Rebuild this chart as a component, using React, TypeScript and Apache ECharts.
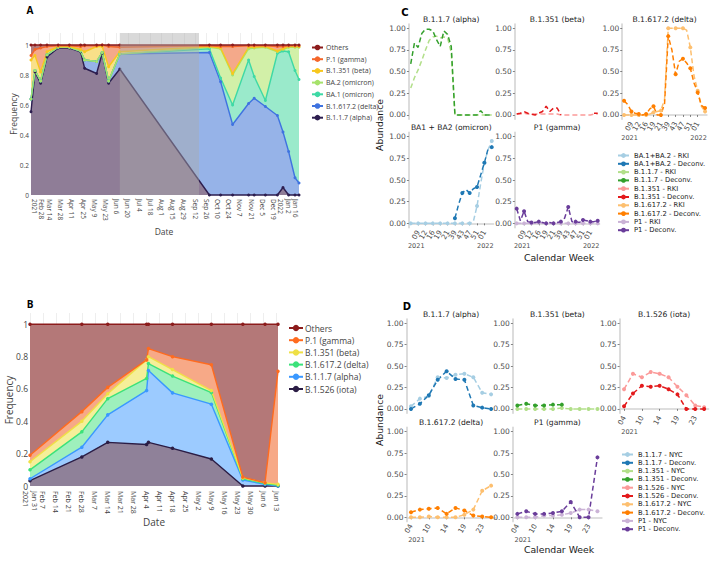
import React, { useEffect, useRef } from "react";
import * as echarts from "echarts";

// ---------------- Panel A (plotly stacked frequencies) ----------------
const datesA = ["2021-02-19","2021-02-24","2021-03-03","2021-03-11","2021-03-25","2021-04-08","2021-04-22","2021-04-27","2021-05-12","2021-05-19","2021-05-27","2021-06-10","2021-09-30","2021-10-14","2021-10-29","2021-11-18","2021-11-25","2021-12-09","2021-12-24","2021-12-31","2022-01-07","2022-01-15","2022-01-20"];
const alphaA = [0.555,0.82,0.745,0.92,0.98,0.98,0.955,0.845,0.81,0.945,0.745,0.84,0,0,0,0,0,0,0,0.05,0,0,0];
const deltaA = [0.085,0.01,0.015,0.015,0.005,0.005,0.005,0.055,0.08,0.005,0.015,0.10,0.95,0.755,0.47,0.61,0.645,0.59,0.53,0.37,0.29,0.115,0.08];
const ba1A = [0,0,0,0,0,0,0,0,0,0,0,0,0.025,0.025,0.13,0.29,0.145,0.04,0.415,0.54,0.665,0.715,0.69];
const ba2A = [0,0,0,0,0,0,0,0,0,0,0,0,0.01,0.195,0.2,0.075,0.19,0.355,0.01,0.01,0.03,0.155,0.215];
const betaA = [0.26,0.10,0.06,0.02,0.005,0.005,0.01,0.055,0.10,0.04,0.095,0.015,0.005,0.005,0.01,0.01,0.005,0.005,0.005,0.005,0.005,0.005,0.005];
const gammaA = [0.03,0.04,0.16,0.035,0.005,0.005,0.02,0.04,0.005,0.01,0.135,0.03,0.005,0.01,0.18,0.01,0.01,0.005,0.03,0.015,0.005,0.005,0.005];
const othersA = [0.07,0.03,0.02,0.01,0.005,0.005,0.01,0.005,0.005,0,0.01,0.015,0.005,0.01,0.01,0.005,0.005,0.005,0.01,0.01,0.005,0.005,0.005];
const ticksA = ["2021-02-28","2021-03-14","2021-03-28","2021-04-11","2021-04-25","2021-05-09","2021-05-23","2021-06-06","2021-06-20","2021-07-04","2021-07-18","2021-08-01","2021-08-15","2021-08-29","2021-09-12","2021-09-26","2021-10-10","2021-10-24","2021-11-07","2021-11-21","2021-12-05","2021-12-19","2022-01-02","2022-01-16"];
const yearTicksA = ["2021-02-28","2022-01-02"];
const gapA = ["2021-06-10","2021-09-17"];

// ---------------- Panel B ----------------
const datesB = ["2021-01-31","2021-02-28","2021-03-14","2021-04-04","2021-04-05","2021-04-18","2021-05-09","2021-05-26","2021-06-07","2021-06-14"];
const iotaB = [0.033,0.18,0.27,0.257,0.27,0.233,0.167,0,0,0];
const alphaB = [0.012,0.06,0.17,0.333,0.445,0.343,0.339,0.037,0.01,0];
const deltaB = [0.055,0.095,0.10,0.075,0.042,0.104,0.072,0.008,0.005,0.005];
const betaB = [0.05,0.065,0.03,0.115,0.043,0.04,0.012,0.005,0.005,0.005];
const gammaB = [0.04,0.06,0.04,0.0,0.05,0.08,0.16,0.005,0,0.70];
const othersB = [0.81,0.54,0.39,0.22,0.15,0.2,0.25,0.945,0.98,0.29];
const ticksB = ["2021-01-31","2021-02-07","2021-02-14","2021-02-21","2021-02-28","2021-03-07","2021-03-14","2021-03-21","2021-03-28","2021-04-04","2021-04-11","2021-04-18","2021-04-25","2021-05-02","2021-05-09","2021-05-16","2021-05-23","2021-05-30","2021-06-06","2021-06-13"];
const yearTicksB = ["2021-01-31"];

// ---------------- Panel C (calendar weeks 2021-2022) ----------------
const weeksC = ["07","08","09","10","12","14","16","17","19","20","21","22","39","41","43","45","47","49","51","52","01","02","03"];
const alphaRkiC = [0.31,0.43,0.52,0.63,0.75,0.86,0.9,0.91,0.89,0.9,0.89,0.72,0,0,0,0,0,0,0,0,0,0,0];
const alphaDecC = [0.59,0.83,0.78,0.94,0.99,0.99,0.97,0.87,0.79,0.97,0.93,0.79,0,0,0,0,0,0,0,0.05,0,0,0];
const betaRkiC = [0.01,0.01,0.02,0.01,0.01,0.01,0.01,0.01,0.01,0.01,0.01,0.01,0,0,0,0,0,0,0,0,0,0.01,0.01];
const betaDecC = [0.01,0.02,0.04,0.02,0.01,0,0.02,0.04,0.1,0.04,0.08,0.08,0,null,null,null,null,null,null,null,null,0.02,0.02];
const deltaRkiC = [0,0,0,0,0,0,0,0.01,0.03,0.04,0.05,0.18,1.0,1.0,1.0,1.0,1.0,0.98,0.78,0.45,0.28,0.1,0.04];
const deltaDecC = [0.165,0.12,0.04,0.02,0.01,0.0,0.01,0.07,0.1,0,0,0.13,0.91,0.75,0.47,0.62,0.65,0.6,0.54,0.37,0.26,0.11,0.08];
const omiRkiC = [0,0,0,0,0,0,0,0,0,0,0,0,0,0,0,0,0,0.02,0.2,0.46,0.7,0.85,0.95];
const omiDecC = [null,null,null,null,null,null,null,null,null,null,null,null,0.06,0.22,0.35,0.39,0.35,0.40,0.42,0.56,0.70,0.86,0.88];
const p1RkiC = [0,0,0,0,0,0,0.01,0,0,0,0,0,0,0,0,0,0,0,0,0,0,0,0];
const p1DecC = [0.17,0.03,0.14,0.02,0.01,0.01,0.02,0.01,0,0.01,0,0.01,0.02,0.06,0.19,0.02,0.02,0.01,0.04,0.03,0.02,0.02,0.03];

// ---------------- Panel D (calendar weeks 2021) ----------------
const weeksD = ["04","07","10","12","14","17","19","21","23","25"];
const alphaNycD = [0.03,0.12,0.15,0.37,0.36,0.40,0.41,0.37,0.19,0.17];
const alphaDecD = [0,0.06,0.16,0.34,0.44,0.35,0.34,0.04,0.015,0];
const betaNycD = [0,0,0,0,0,0.01,0,0,0,0];
const betaDecD = [0.04,0.06,0.04,0.04,0.05,0.05,null,null,null,null];
const iotaNycD = [0.23,0.41,0.37,0.43,0.41,0.37,0.26,0.16,0.04,0.02];
const iotaDecD = [0.03,0.18,0.27,0.26,0.27,0.23,0.17,0,0,0];
const deltaNycD = [0,0,0.01,0,0,0,0.03,0.09,0.31,0.37];
const deltaDecD = [0.06,0.09,0.1,0.11,0.04,0.11,0.08,0.02,0.01,0];
const p1NycD = [0,0,0,0.02,0.02,0.03,0.05,0.09,0.09,0.07];
const p1DecD = [0.04,0.07,0.04,0.04,0.05,0.07,0.18,0,0,0.70];

const MONTHS = ["Jan","Feb","Mar","Apr","May","Jun","Jul","Aug","Sep","Oct","Nov","Dec"];
const toTs = (s: string) => Date.parse(s + "T00:00:00Z");
const famP = "'Open Sans', sans-serif";
const famG = "'DejaVu Sans', sans-serif";

function dateFormatter(yearTicks: string[]) {
  const yt = yearTicks.map(toTs);
  return (v: number) => {
    const d = new Date(v);
    const base = MONTHS[d.getUTCMonth()] + " " + d.getUTCDate();
    if (yt.some((t) => Math.abs(t - v) < 3600000)) return base + "\n" + d.getUTCFullYear();
    return base;
  };
}

// stacked layers: list from bottom to top -> area series (top first, opaque, z1) + line series (bottom first, z2)
function stackedLayers(dates: string[], layers: any[], idx: number, size: number, lastExtra: any = {}) {
  const xs = dates.map(toTs);
  const cum: number[][] = [];
  let run = dates.map(() => 0);
  layers.forEach((l) => {
    run = run.map((r, i) => r + l.vals[i]);
    cum.push(run.slice());
  });
  const out: any[] = [];
  for (let k = layers.length - 1; k >= 0; k--) {
    out.push({
      type: "line", name: "__area" + idx + "_" + k, xAxisIndex: idx, yAxisIndex: idx, z: 1,
      data: xs.map((x, i) => [x, cum[k][i]]), showSymbol: false, symbol: "none",
      lineStyle: { width: 0, opacity: 0 }, areaStyle: { color: layers[k].fill, opacity: 1 },
      emphasis: { disabled: true }, silent: true, clip: false,
    });
  }
  layers.forEach((l, k) => {
    out.push({
      type: "line", name: l.name, xAxisIndex: idx, yAxisIndex: idx, z: 2,
      data: xs.map((x, i) => [x, cum[k][i]]),
      symbol: "circle", symbolSize: size, showSymbol: true,
      lineStyle: { color: l.line, width: 1.4 }, itemStyle: { color: l.line },
      emphasis: { disabled: true }, clip: false,
      ...(k === layers.length - 1 ? lastExtra : {}),
    });
  });
  return out;
}

function buildOption() {
  const grids: any[] = [];
  const xAxes: any[] = [];
  const yAxes: any[] = [];
  const series: any[] = [];
  const graphic: any[] = [];
  const legends: any[] = [];

  const txt = (text: string, x: number, y: number, size: number, fam: string, opts: any = {}) => {
    graphic.push({
      type: "text", x, y, rotation: opts.rotation || 0, silent: true, z: 10,
      style: { text, fontSize: size, fontFamily: fam, fill: opts.color || "#444", fontWeight: opts.bold ? "bold" : "normal", textAlign: opts.align || "center", textVerticalAlign: "middle" },
    });
  };

  // ---- Panel A ----
  grids.push({ left: 31, top: 33, width: 268, height: 162 });
  xAxes.push({
    type: "value", gridIndex: 0, min: toTs(datesA[0]), max: toTs(datesA[datesA.length - 1]),
    axisLine: { show: false },
    axisTick: { show: false, customValues: ticksA.map(toTs) },
    axisLabel: { customValues: ticksA.map(toTs), formatter: dateFormatter(yearTicksA), rotate: -90, fontSize: 6.5, color: "#444", fontFamily: famP, margin: 4, lineHeight: 7.5 },
    splitLine: { show: true, lineStyle: { color: "#eeeeee", width: 1 } },
  });
  yAxes.push({
    type: "value", gridIndex: 0, min: 0, max: 1.08,
    axisLine: { show: false }, axisTick: { show: false, customValues: [0, 0.2, 0.4, 0.6, 0.8, 1] },
    axisLabel: { customValues: [0, 0.2, 0.4, 0.6, 0.8, 1], fontSize: 6.5, color: "#444", fontFamily: famP, margin: 2 },
    splitLine: { show: false },
  });
  const layersA = [
    { name: "B.1.1.7 (alpha)", vals: alphaA, line: "#2d1e4f", fill: "#8f7d97" },
    { name: "B.1.617.2 (delta)", vals: deltaA, line: "#3f73e0", fill: "#96b3e8" },
    { name: "BA.1 (omicron)", vals: ba1A, line: "#3ed9a5", fill: "#9aeacb" },
    { name: "BA.2 (omicron)", vals: ba2A, line: "#a6e26b", fill: "#d2f0a8" },
    { name: "B.1.351 (beta)", vals: betaA, line: "#f7c71e", fill: "#f9e089" },
    { name: "P.1 (gamma)", vals: gammaA, line: "#f4662a", fill: "#f4a98a" },
    { name: "Others", vals: othersA, line: "#8c1c1c", fill: "#b47a7a" },
  ];
  series.push(...stackedLayers(datesA, layersA, 0, 3, {
    markArea: { silent: true, z: 5, itemStyle: { color: "rgba(170,170,170,0.45)" }, data: [[{ xAxis: toTs(gapA[0]) }, { xAxis: toTs(gapA[1]) }]] },
  }));
  legends.push({
    left: 306, top: 39, orient: "vertical", itemWidth: 11, itemHeight: 7, itemGap: 4.7, selectedMode: false,
    textStyle: { fontSize: 7, fontFamily: famP, color: "#444", padding: [0, 0, 0, -2] },
    data: layersA.slice().reverse().map((l) => ({ name: l.name, itemStyle: { color: l.line }, lineStyle: { color: l.line } })),
  });
  txt("A", 30, 10, 10, famP, { bold: true, color: "#000" });
  txt("Frequency", 13, 114, 8.5, famP, { rotation: Math.PI / 2 });
  txt("Date", 164, 231, 8.5, famP);

  // ---- Panel B ----
  grids.push({ left: 30, top: 313, width: 248, height: 173 });
  xAxes.push({
    type: "value", gridIndex: 1, min: toTs(datesB[0]), max: toTs(datesB[datesB.length - 1]),
    axisLine: { show: false },
    axisTick: { show: false, customValues: ticksB.map(toTs) },
    axisLabel: { customValues: ticksB.map(toTs), formatter: dateFormatter(yearTicksB), rotate: -90, fontSize: 7, color: "#444", fontFamily: famP, margin: 5, lineHeight: 8.5 },
    splitLine: { show: true, lineStyle: { color: "#eeeeee", width: 1 } },
  });
  yAxes.push({
    type: "value", gridIndex: 1, min: 0, max: 1.07,
    axisLine: { show: false }, axisTick: { show: false, customValues: [0, 0.2, 0.4, 0.6, 0.8, 1] },
    axisLabel: { customValues: [0, 0.2, 0.4, 0.6, 0.8, 1], fontSize: 8.5, color: "#444", fontFamily: famP, margin: 2 },
    splitLine: { show: false },
  });
  const layersB = [
    { name: "B.1.526 (iota)", vals: iotaB, line: "#2b1d45", fill: "#8f8199" },
    { name: "B.1.1.7 (alpha)", vals: alphaB, line: "#3a98ff", fill: "#9ccbff" },
    { name: "B.1.617.2 (delta)", vals: deltaB, line: "#3be27a", fill: "#9ef0bc" },
    { name: "B.1.351 (beta)", vals: betaB, line: "#efe046", fill: "#f5ef99" },
    { name: "P.1 (gamma)", vals: gammaB, line: "#ff6b1f", fill: "#f7a987" },
    { name: "Others", vals: othersB, line: "#8c1c1c", fill: "#b47878" },
  ];
  series.push(...stackedLayers(datesB, layersB, 1, 3.5));
  legends.push({
    left: 283, top: 318.5, orient: "vertical", itemWidth: 14, itemHeight: 8, itemGap: 3.2, selectedMode: false,
    textStyle: { fontSize: 8.5, fontFamily: famP, color: "#444", padding: [0, 0, 0, -3] },
    data: layersB.slice().reverse().map((l) => ({ name: l.name, itemStyle: { color: l.line }, lineStyle: { color: l.line } })),
  });
  txt("B", 30, 304, 10, famP, { bold: true, color: "#000" });
  txt("Frequency", 9, 400, 10, famP, { rotation: Math.PI / 2 });
  txt("Date", 154, 522, 10, famP);

  // ---- Facets (C and D) ----
  const yTicks = [0, 0.25, 0.5, 0.75, 1];
  const addFacet = (f: any) => {
    const idx = grids.length;
    grids.push({ left: f.left, top: f.top, width: f.width, height: f.height });
    xAxes.push({
      type: "category", gridIndex: idx, data: f.cats, boundaryGap: true,
      axisLine: { show: f.showX, lineStyle: { color: "#d4d4d4", width: 1.6 } },
      axisTick: { show: f.showX, alignWithLabel: true, interval: 1, length: 2, lineStyle: { color: "#666", width: 0.8 } },
      axisLabel: { show: f.showX, interval: 1, rotate: 60, fontSize: 7.2, color: "#4d4d4d", fontFamily: famG, margin: 3 },
      splitLine: { show: false },
    });
    yAxes.push({
      type: "value", gridIndex: idx, min: -0.05, max: 1.05,
      axisLine: { show: true, lineStyle: { color: "#d4d4d4", width: 1.6 } },
      axisTick: { show: true, customValues: yTicks, length: 2, lineStyle: { color: "#666", width: 0.8 } },
      axisLabel: { customValues: yTicks, formatter: (v: number) => v.toFixed(2), fontSize: 7.5, color: "#4d4d4d", fontFamily: famG, margin: 3 },
      splitLine: { show: false },
    });
    const mk = (name: string, data: any[], color: string) => ({
      type: "line", name, xAxisIndex: idx, yAxisIndex: idx, data,
      symbol: "circle", symbolSize: 4, showSymbol: true, clip: false,
      lineStyle: { color, width: 1.5, type: [5, 3] }, itemStyle: { color },
      emphasis: { disabled: true },
    });
    series.push(mk(f.lightName, f.light, f.lc));
    series.push(mk(f.darkName, f.dark, f.dc));
    const cx = f.left + f.width / 2;
    txt(f.title, cx, f.top - 5, 7.6, famG, { color: "#1a1a1a" });
    if (f.showX) {
      const band = f.width / f.cats.length;
      const bottom = f.top + f.height;
      if (f.years[0]) txt(f.years[0], f.left + band / 2 + 5.5, bottom + 18.5, 6.5, famG, { color: "#4d4d4d" });
      if (f.years[1]) txt(f.years[1], f.left + f.width - band / 2 - 6.5, bottom + 18.5, 6.5, famG, { color: "#4d4d4d" });
    }
  };

  const PAIRED = {
    blue: ["#a6cee3", "#1f78b4"], green: ["#b2df8a", "#33a02c"], red: ["#fb9a99", "#e31a1c"],
    orange: ["#fdbf6f", "#ff7f00"], purple: ["#cab2d6", "#6a3d9a"],
  };

  const cLeft = [408.9, 514.85, 622.2];
  const cTop = [24, 132.4];
  const cW = 84.7, cH = 95.3;
  const yrsC = ["2021", "2022"];
  const facetsC = [
    { title: "B.1.1.7 (alpha)", c: 0, r: 0, showX: false, light: alphaRkiC, dark: alphaDecC, col: PAIRED.green, ln: "B.1.1.7 - RKI", dn: "B.1.1.7 - Deconv." },
    { title: "B.1.351 (beta)", c: 1, r: 0, showX: false, light: betaRkiC, dark: betaDecC, col: PAIRED.red, ln: "B.1.351 - RKI", dn: "B.1.351 - Deconv." },
    { title: "B.1.617.2 (delta)", c: 2, r: 0, showX: true, light: deltaRkiC, dark: deltaDecC, col: PAIRED.orange, ln: "B.1.617.2 - RKI", dn: "B.1.617.2 - Deconv." },
    { title: "BA1 + BA2 (omicron)", c: 0, r: 1, showX: true, light: omiRkiC, dark: omiDecC, col: PAIRED.blue, ln: "BA.1+BA.2 - RKI", dn: "BA.1+BA.2 - Deconv." },
    { title: "P1 (gamma)", c: 1, r: 1, showX: true, light: p1RkiC, dark: p1DecC, col: PAIRED.purple, ln: "P1 - RKI", dn: "P1 - Deconv." },
  ];
  facetsC.forEach((f) =>
    addFacet({ left: cLeft[f.c], top: cTop[f.r], width: cW, height: cH, cats: weeksC, showX: f.showX, title: f.title, light: f.light, dark: f.dark, lc: f.col[0], dc: f.col[1], lightName: f.ln, darkName: f.dn, years: yrsC })
  );

  const dLeft = [406.55, 512.9, 619.6];
  const dTop = [319, 427.4];
  const dW = 89, dH = 94.2;
  const yrsD = ["2021", ""];
  const facetsD = [
    { title: "B.1.1.7 (alpha)", c: 0, r: 0, showX: false, light: alphaNycD, dark: alphaDecD, col: PAIRED.blue, ln: "B.1.1.7 - NYC", dn: "B.1.1.7 - Deconv." },
    { title: "B.1.351 (beta)", c: 1, r: 0, showX: false, light: betaNycD, dark: betaDecD, col: PAIRED.green, ln: "B.1.351 - NYC", dn: "B.1.351 - Deconv." },
    { title: "B.1.526 (iota)", c: 2, r: 0, showX: true, light: iotaNycD, dark: iotaDecD, col: PAIRED.red, ln: "B.1.526 - NYC", dn: "B.1.526 - Deconv." },
    { title: "B.1.617.2 (delta)", c: 0, r: 1, showX: true, light: deltaNycD, dark: deltaDecD, col: PAIRED.orange, ln: "B.1.617.2 - NYC", dn: "B.1.617.2 - Deconv." },
    { title: "P1 (gamma)", c: 1, r: 1, showX: true, light: p1NycD, dark: p1DecD, col: PAIRED.purple, ln: "P1 - NYC", dn: "P1 - Deconv." },
  ];
  facetsD.forEach((f) =>
    addFacet({ left: dLeft[f.c], top: dTop[f.r], width: dW, height: dH, cats: weeksD, showX: f.showX, title: f.title, light: f.light, dark: f.dark, lc: f.col[0], dc: f.col[1], lightName: f.ln, darkName: f.dn, years: yrsD })
  );

  const legC = [
    ["BA.1+BA.2 - RKI", PAIRED.blue[0]], ["BA.1+BA.2 - Deconv.", PAIRED.blue[1]],
    ["B.1.1.7 - RKI", PAIRED.green[0]], ["B.1.1.7 - Deconv.", PAIRED.green[1]],
    ["B.1.351 - RKI", PAIRED.red[0]], ["B.1.351 - Deconv.", PAIRED.red[1]],
    ["B.1.617.2 - RKI", PAIRED.orange[0]], ["B.1.617.2 - Deconv.", PAIRED.orange[1]],
    ["P1 - RKI", PAIRED.purple[0]], ["P1 - Deconv.", PAIRED.purple[1]],
  ];
  const legD = [
    ["B.1.1.7 - NYC", PAIRED.blue[0]], ["B.1.1.7 - Deconv.", PAIRED.blue[1]],
    ["B.1.351 - NYC", PAIRED.green[0]], ["B.1.351 - Deconv.", PAIRED.green[1]],
    ["B.1.526 - NYC", PAIRED.red[0]], ["B.1.526 - Deconv.", PAIRED.red[1]],
    ["B.1.617.2 - NYC", PAIRED.orange[0]], ["B.1.617.2 - Deconv.", PAIRED.orange[1]],
    ["P1 - NYC", PAIRED.purple[0]], ["P1 - Deconv.", PAIRED.purple[1]],
  ];
  const ggLegend = (left: number, top: number, items: any[]) => ({
    left, top, orient: "vertical", itemWidth: 11, itemHeight: 6, itemGap: 1.3, selectedMode: false,
    textStyle: { fontSize: 6.8, fontFamily: famG, color: "#1a1a1a" },
    data: items.map(([n, c]) => ({ name: n, itemStyle: { color: c }, lineStyle: { color: c, type: "solid" } })),
  });
  legends.push(ggLegend(612, 147, legC));
  legends.push(ggLegend(616, 446, legD));

  txt("C", 405, 12, 10, famG, { bold: true, color: "#000" });
  txt("D", 407, 306, 10, famG, { bold: true, color: "#000" });
  txt("Abundance", 379, 125, 9.2, famG, { rotation: Math.PI / 2, color: "#1a1a1a" });
  txt("Abundance", 379, 420, 9.2, famG, { rotation: Math.PI / 2, color: "#1a1a1a" });
  txt("Calendar Week", 559, 257, 9.3, famG, { color: "#1a1a1a" });
  txt("Calendar Week", 559, 549, 9.3, famG, { color: "#1a1a1a" });

  return {
    animation: false,
    backgroundColor: "#ffffff",
    grid: grids,
    xAxis: xAxes,
    yAxis: yAxes,
    series,
    legend: legends,
    graphic,
  };
}

export default function App() {
  const ref = useRef<HTMLDivElement>(null);
  useEffect(() => {
    document.body.style.margin = "0";
    const chart = echarts.init(ref.current as HTMLDivElement, undefined, { renderer: "svg" });
    chart.setOption(buildOption() as any);
    return () => chart.dispose();
  }, []);
  return <div ref={ref} style={{ width: 710, height: 561 }} />;
}
